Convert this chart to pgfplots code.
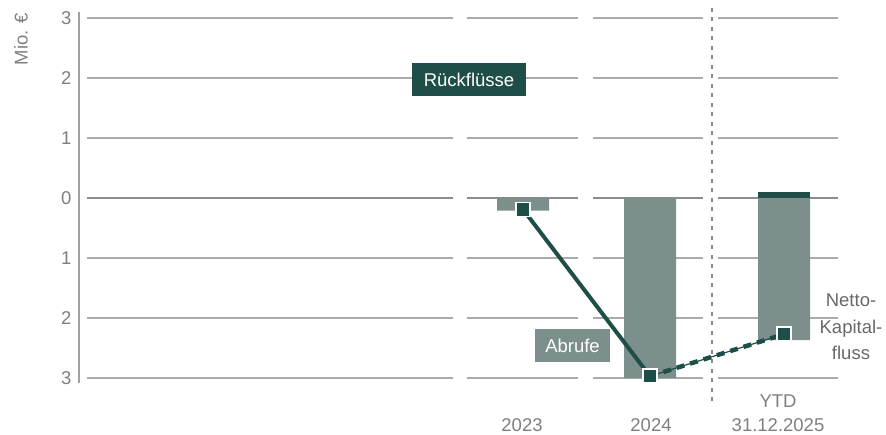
\documentclass[border=0pt]{standalone}
\usepackage{pgfplots}
\pgfplotsset{compat=1.18}
\usepackage{fontspec}
\setmainfont{Liberation Sans}
\definecolor{dkgreen}{HTML}{1F4E48}
\definecolor{bargray}{HTML}{7D8F8C}
\definecolor{gridgray}{HTML}{ABABAB}
\definecolor{zerogray}{HTML}{8C8C8C}
\definecolor{axgray}{HTML}{A0A0A0}
\definecolor{txtgray}{HTML}{7F7F7F}
\definecolor{netgray}{HTML}{686868}
\definecolor{dotgray}{HTML}{8A8A8A}
\newcommand\f{\fontsize{18.5bp}{22bp}\selectfont}
\begin{document}
\begin{tikzpicture}
\begin{axis}[
  scale only axis, width=807bp, height=370.8bp,
  xmin=79, xmax=886, ymin=-3.08, ymax=3.1,
  clip=false,
  axis x line=none, axis y line=left,
  y axis line style={-, draw=axgray, line width=1.3bp},
  ytick={-3,-2,-1,0,1,2,3}, yticklabels={3,2,1,0,1,2,3},
  major tick length=0pt,
  yticklabel style={font=\f, text=txtgray, xshift=-4bp},
]
\path (axis cs:0,3.3) rectangle (axis cs:886,-3.9333);
\pgfplotsinvokeforeach{-3,-2,-1,1,2,3}{
  \addplot[gridgray, line width=1.3bp, unbounded coords=jump, forget plot]
    coordinates {(87,#1)(453,#1)(nan,#1)(467,#1)(578,#1)(nan,#1)(593,#1)(703,#1)(nan,#1)(718,#1)(838,#1)};
}
\addplot[zerogray, line width=2.5bp, unbounded coords=jump, forget plot]
  coordinates {(87,0)(453,0)(nan,0)(467,0)(578,0)(nan,0)(593,0)(703,0)(nan,0)(718,0)(838,0)};
% Abrufe
\addplot[ybar, bar shift=0pt, bar width=52, fill=bargray, draw=none]
  coordinates {(523,-0.21)(650,-3.0)(784,-2.37)};
% Rueckfluesse
\addplot[ybar, bar shift=0pt, bar width=52, fill=dkgreen, draw=none]
  coordinates {(784,0.1)};
% divider
\addplot[dotgray, line width=2.5bp, dash pattern=on 4bp off 5.5bp]
  coordinates {(712,3.17)(712,-3.4)};
% net capital flow
\addplot[dkgreen, line width=4bp] coordinates {(523,-0.19)(650,-2.97)};
\addplot[dkgreen, line width=1.2bp] coordinates {(650,-2.97)(784,-2.27)};
\addplot[dkgreen, line width=4.5bp, dash pattern=on 8bp off 6bp] coordinates {(650,-2.97)(784,-2.27)};
\addplot[only marks, mark=square*, mark size=7bp, mark options={fill=dkgreen, draw=white, line width=1.5bp}]
  coordinates {(523,-0.19)(650,-2.97)(784,-2.27)};
% labels
\node[fill=dkgreen, text=white, font=\f, minimum width=114bp, minimum height=33bp, inner sep=0pt] at (axis cs:469,1.967) {Rückflüsse};
\node[fill=bargray, text=white, font=\f, minimum width=75bp, minimum height=33bp, inner sep=0pt] at (axis cs:572.5,-2.458) {Abrufe};
\node[text=netgray, font={\fontsize{18.5bp}{26.5bp}\selectfont}, align=center] at (axis cs:851,-2.15) {Netto-\\Kapital-\\fluss};
\node[text=txtgray, font=\f] at (axis cs:522,-3.783) {2023};
\node[text=txtgray, font=\f] at (axis cs:651,-3.783) {2024};
\node[text=txtgray, font=\f] at (axis cs:778,-3.392) {YTD};
\node[text=txtgray, font=\f] at (axis cs:778,-3.783) {31.12.2025};
\node[text=txtgray, font=\f, rotate=90] at (axis cs:21,2.65) {Mio. €};
\end{axis}
\end{tikzpicture}
\end{document}
